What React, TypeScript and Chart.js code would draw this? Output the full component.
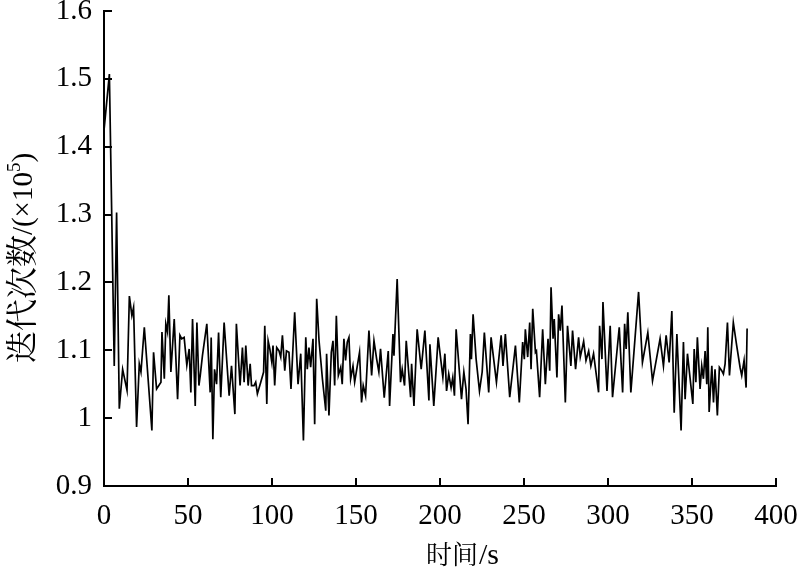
import React, { useEffect, useRef } from "react";
import { Chart, registerables } from "chart.js";

Chart.register(...registerables);

// time (s) of each sample
const timeS: number[] = [
  0, 3.2, 6.1, 7.5, 9.1, 11.1, 13.7, 15.1, 16.6, 17.6, 19.4, 21.0, 22.0, 24.0, 28.5, 29.5,
  31.3, 33.9, 34.5, 35.9, 36.8, 37.8, 38.6, 39.8, 41.8, 43.8, 45.2, 46.2, 47.7, 49.3, 50.7,
  51.7, 52.7, 54.3, 55.3,
  56.5, 57.3, 58.6, 61.2, 63.2, 63.8, 64.8, 65.8, 67.0, 68.2, 69.5, 71.5, 74.5, 75.9, 77.9,
  78.8, 81.0, 82.4, 83.4, 84.4, 85.8, 87.0, 87.8, 89.3, 90.3, 91.3, 93.3, 95.0, 95.7, 96.9,
  97.7, 98.7, 99.9, 100.6, 101.6, 102.8, 104.2, 105.2, 106.2, 107.6, 108.6, 110.1, 111.3, 113.5,
  115.5, 117.1, 118.7, 120.1, 121.0, 122.0, 123.0, 124.4, 125.4, 126.6, 128.0, 130.0, 132.0,
  132.5, 133.9, 135.3, 136.3, 137.3, 138.3, 139.5, 140.9, 141.8, 142.8, 143.8, 144.8, 145.8,
  146.8, 148.2, 149.2, 152.1, 153.3, 154.3, 155.7, 157.7, 159.3, 160.7, 162.3, 163.6, 164.6, 166.8,
  169.2, 170.0, 172.0, 172.6, 174.5, 176.5, 177.5, 178.9, 179.9, 182.5, 183.1, 184.5, 186.4,
  188.8, 191.0, 193.4, 194.0, 196.3, 198.9, 201.7, 202.9, 203.9, 205.2, 206.6, 207.6, 208.6,
  209.6, 212.8, 214.2, 215.5, 216.7, 218.1, 218.7, 219.7, 221.5, 223.5, 225.1, 226.4,
  229.0, 230.4, 233.6, 236.4, 237.5, 238.9, 241.5, 244.9, 247.2, 249.2, 250.2, 250.8, 252.2,
  253.4, 254.2, 255.2, 256.8, 257.4, 259.3, 261.1, 262.7, 264.3, 265.3, 266.1, 267.3, 268.0,
  269.6, 270.6, 271.6, 272.6, 274.6, 275.9, 277.9, 278.9, 280.7, 282.5,
  283.5, 285.5, 286.9, 288.5, 289.8, 291.4, 294.4, 295.0, 296.4, 297.0, 299.4, 301.3, 302.7,
  306.7, 308.7, 309.9, 310.8, 311.8, 313.6, 318.2, 320.5, 323.7, 326.5, 331.0, 333.0, 334.6,
  336.4, 338.0, 339.4,
  341.0, 343.5, 344.9, 345.9, 347.3, 348.9, 350.5, 351.3, 352.3, 353.2, 354.8, 355.8, 356.8,
  357.8, 358.8, 359.4, 360.2, 361.8, 362.8, 363.7, 365.1, 366.3, 367.7, 368.7, 369.7, 371.1,
  372.3, 374.6, 376.6, 378.6, 379.6, 381.0, 382.2, 382.8,
];

// iteration count (x 10^5)
const iterations: number[] = [
  1.424, 1.507, 1.077, 1.303, 1.014, 1.072, 1.041, 1.180, 1.151, 1.163, 0.987, 1.080, 1.068, 1.134, 0.982, 1.097,
  1.043, 1.053, 1.127, 1.058, 1.139, 1.127, 1.181, 1.068, 1.146, 1.028, 1.122, 1.117, 1.119, 1.078, 1.102,
  1.038, 1.146, 1.018, 1.141,
  1.048, 1.063, 1.092, 1.139, 1.038, 1.119, 0.969, 1.072, 1.050, 1.126, 1.031, 1.141, 1.033, 1.077, 1.006,
  1.139, 1.048, 1.104, 1.053, 1.107, 1.048, 1.080, 1.048, 1.048, 1.053, 1.036, 1.053, 1.068, 1.136, 1.021,
  1.114, 1.102, 1.082, 1.107, 1.048, 1.104, 1.099, 1.090, 1.122, 1.070, 1.099, 1.097, 1.043, 1.156,
  1.050, 1.095, 0.967, 1.119, 1.072, 1.104, 1.075, 1.117, 0.991, 1.176, 1.114, 1.058, 1.011,
  1.095, 1.004, 1.097, 1.114, 1.048, 1.151, 1.063, 1.075, 1.050, 1.117, 1.085, 1.112, 1.119,
  1.058, 1.077, 1.053, 1.097, 1.023, 1.048, 1.033, 1.129, 1.063, 1.114, 1.087, 1.068, 1.102, 1.030,
  1.099, 1.018, 1.124, 1.092, 1.205, 1.053, 1.072, 1.048, 1.114, 1.031, 1.080, 1.018, 1.131,
  1.072, 1.129, 1.026, 1.109, 1.018, 1.119, 1.060, 1.095, 1.040, 1.065, 1.045, 1.060, 1.033,
  1.131, 1.028, 1.068, 1.043, 0.991, 1.124, 1.087, 1.153, 1.087, 1.040, 1.068, 1.126,
  1.038, 1.119, 1.053, 1.122, 1.077, 1.124, 1.031, 1.107, 1.023, 1.112, 1.087, 1.131, 1.090,
  1.141, 1.072, 1.161, 1.097, 1.099, 1.031, 1.131, 1.050, 1.117, 1.070, 1.193, 1.117, 1.146,
  1.060, 1.153, 1.129, 1.166, 1.023, 1.136, 1.077, 1.129, 1.072, 1.119,
  1.090, 1.113, 1.085, 1.099, 1.077, 1.095, 1.038, 1.136, 1.087, 1.171, 1.040, 1.136, 1.031,
  1.134, 1.038, 1.139, 1.102, 1.156, 1.038, 1.186, 1.082, 1.126, 1.055, 1.117, 1.077, 1.122,
  1.082, 1.158, 1.008,
  1.124, 0.982, 1.112, 1.028, 1.095, 1.058, 1.021, 1.102, 1.053, 1.119, 1.043, 1.077, 1.058,
  1.099, 1.050, 1.134, 1.009, 1.077, 1.023, 1.072, 1.004, 1.075, 1.070, 1.065, 1.080, 1.141,
  1.063, 1.141, 1.107, 1.075, 1.063, 1.085, 1.045, 1.132,
];

const xMin = 0;
const xMax = 400;
const xStep = 50;
const yMin = 0.9;
const yMax = 1.6;
const yStep = 0.1;

const xTitleCJK = "时间";
const xTitleLatin = "/s";
const yTitleCJK = "迭代次数";
const yTitleLatin = "/(×10";
const yTitleSup = "5";
const yTitleEnd = ")";

const LATIN = "'Liberation Serif', 'Times New Roman', serif";
const CJK_FONT = "'Noto Serif CJK SC', 'Noto Sans CJK SC', serif";

const inwardTicks = {
  id: "inwardTicks",
  afterDraw(chart: any) {
    const { ctx, chartArea, scales } = chart;
    ctx.save();
    ctx.strokeStyle = "#000";
    ctx.lineWidth = 2;
    const xs = scales.x;
    xs.ticks.forEach((t: any) => {
      const px = Math.round(xs.getPixelForValue(t.value));
      ctx.beginPath();
      ctx.moveTo(px, chartArea.bottom);
      ctx.lineTo(px, chartArea.bottom - 8);
      ctx.stroke();
    });
    const ys = scales.y;
    ys.ticks.forEach((t: any) => {
      const py = Math.round(ys.getPixelForValue(t.value));
      ctx.beginPath();
      ctx.moveTo(chartArea.left, py);
      ctx.lineTo(chartArea.left + 8, py);
      ctx.stroke();
    });
    ctx.restore();
  },
};

// axis titles with mixed CJK / Latin fonts and a real superscript
const axisTitles = {
  id: "axisTitles",
  afterDraw(chart: any) {
    const { ctx } = chart;
    ctx.save();
    ctx.fillStyle = "#000";
    ctx.textAlign = "left";
    ctx.textBaseline = "alphabetic";

    // x title
    const xc = `26px ${CJK_FONT}`;
    const xl = `30px ${LATIN}`;
    ctx.font = xc;
    const a1 = ctx.measureText(xTitleCJK).width;
    ctx.font = xl;
    const a2 = ctx.measureText(xTitleLatin).width;
    const x = 462 - (a1 + a2) / 2;
    ctx.font = xc;
    ctx.fillText(xTitleCJK, x, 564);
    ctx.font = xl;
    ctx.fillText(xTitleLatin, x + a1 + 1, 564);

    // y title (rotated)
    const yc = `32px ${CJK_FONT}`;
    const yl = `29px ${LATIN}`;
    const ys = `19px ${LATIN}`;
    ctx.font = yc;
    const b1 = ctx.measureText(yTitleCJK).width;
    ctx.font = yl;
    const b2 = ctx.measureText(yTitleLatin).width;
    const b4 = ctx.measureText(yTitleEnd).width;
    ctx.font = ys;
    const b3 = ctx.measureText(yTitleSup).width;
    const total = b1 + b2 + b3 + b4;
    ctx.translate(21, 258);
    ctx.rotate(-Math.PI / 2);
    let p = -total / 2;
    const base = 11;
    ctx.font = yc;
    ctx.fillText(yTitleCJK, p, base + 1);
    p += b1;
    ctx.font = yl;
    ctx.fillText(yTitleLatin, p, base);
    p += b2;
    ctx.font = ys;
    ctx.fillText(yTitleSup, p, base - 12);
    p += b3;
    ctx.font = yl;
    ctx.fillText(yTitleEnd, p, base);
    ctx.restore();
  },
};

export default function App() {
  const ref = useRef<HTMLCanvasElement | null>(null);
  useEffect(() => {
    document.body.style.margin = "0";
    const canvas = ref.current;
    if (!canvas) return;
    const data = timeS.map((t, i) => ({ x: t, y: iterations[i] }));
    const chart = new Chart(canvas, {
      type: "line",
      data: {
        datasets: [
          {
            data,
            borderColor: "#000",
            borderWidth: 1.7,
            pointRadius: 0,
            tension: 0,
            fill: false,
          },
        ],
      },
      plugins: [inwardTicks, axisTitles],
      options: {
        animation: false,
        responsive: false,
        maintainAspectRatio: false,
        devicePixelRatio: 1,
        layout: { padding: { left: 0, top: 11, right: 23, bottom: 0 } },
        plugins: {
          legend: { display: false },
          tooltip: { enabled: false },
        },
        scales: {
          x: {
            type: "linear",
            min: xMin,
            max: xMax,
            ticks: {
              stepSize: xStep,
              color: "#000",
              font: { family: LATIN, size: 29 },
              padding: 13,
              maxRotation: 0,
            },
            grid: { display: true, drawOnChartArea: false, drawTicks: false },
            border: { display: true, color: "#000", width: 2 },
            afterFit: (s: any) => {
              s.height = 84;
              s.paddingLeft = 0;
              s.paddingRight = 0;
            },
          },
          y: {
            type: "linear",
            min: yMin,
            max: yMax,
            ticks: {
              stepSize: yStep,
              color: "#000",
              font: { family: LATIN, size: 29 },
              padding: 12,
              callback: (v: any) => String(Number(Number(v).toFixed(1))),
            },
            grid: { display: true, drawOnChartArea: false, drawTicks: false },
            border: { display: true, color: "#000", width: 2 },
            afterFit: (s: any) => {
              s.width = 104;
              s.paddingTop = 0;
              s.paddingBottom = 0;
            },
          },
        },
      },
    });
    return () => chart.destroy();
  }, []);
  return (
    <div style={{ position: "fixed", left: 0, top: 0, width: 799, height: 570 }}>
      <canvas ref={ref} width={799} height={570} style={{ width: 799, height: 570 }} />
    </div>
  );
}
